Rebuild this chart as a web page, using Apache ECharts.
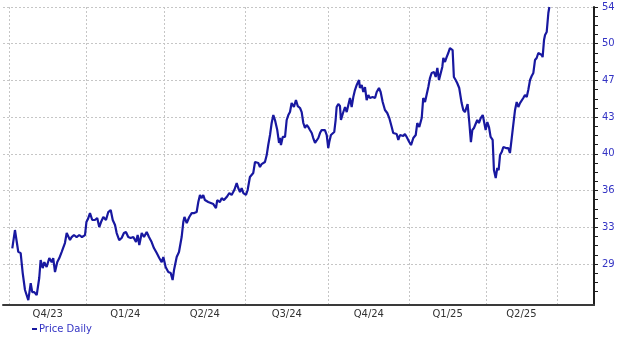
<!DOCTYPE html>
<html>
<head>
<meta charset="utf-8">
<script src="https://cdn.jsdelivr.net/npm/echarts@6/dist/echarts.min.js"></script>
<style>html,body{margin:0;padding:0;background:#fff}#c{width:620px;height:339px}</style>
</head>
<body>
<div id="c"></div>
<script>
// Trading-day index (from start of Q4/23) and daily price
var dayIndex = [2.6,4.7,7.3,9.2,10.8,12.6,13.9,15.2,17.1,18.3,19.9,21.8,23.8,24.9,26.5,27.8,29.6,31.7,33.6,34.8,36.2,38.0,39.6,41.4,42.7,44.0,45.4,46.6,48.0,49.3,51.1,53.2,55.3,57.4,59.8,60.9,62.1,63.7,65.5,67.6,69.4,71.0,72.4,74.2,76.3,78.1,80.0,81.6,83.4,84.7,86.7,88.6,90.4,92.0,93.8,95.7,97.8,99.9,101.2,102.5,104.4,106.2,108.3,110.1,112.2,114.0,116.2,118.2,120.1,121.4,123.2,125.3,127.2,128.7,129.8,131.9,133.7,135.8,137.1,138.0,139.8,141.8,143.7,145.7,147.6,148.9,150.2,151.6,152.8,154.1,156.7,158.1,160.7,162.8,163.8,165.9,167.3,169.1,171.2,173.3,175.1,177.2,179.1,180.3,181.7,183.0,184.3,186.4,187.7,189.5,190.9,192.1,193.5,194.8,196.1,197.4,198.7,200.0,201.3,202.7,203.9,205.3,206.6,207.9,209.2,211.0,212.4,213.1,213.9,215.3,217.1,218.4,219.7,221.0,222.3,224.1,225.7,227.1,228.9,230.2,231.5,232.8,234.1,235.4,236.7,238.1,239.3,240.7,242.0,243.3,244.6,245.9,247.2,248.5,249.9,251.1,251.9,253.2,254.6,255.8,256.9,257.7,259.0,260.3,261.1,262.7,264.3,265.6,266.9,268.2,269.5,270.8,272.1,273.5,275.3,276.0,277.4,278.7,280.0,281.3,282.6,283.9,286.0,287.9,289.2,291.0,292.3,293.9,295.7,297.5,299.1,301.0,302.2,304.9,306.2,307.5,310.1,311.4,312.8,314.8,316.2,318.0,319.9,321.1,322.7,324.6,325.8,327.2,328.5,329.8,331.1,332.4,334.3,335.6,336.9,338.2,339.5,340.8,341.6,342.9,344.2,345.5,346.8,348.2,348.9,349.9,351.3,352.5,354.1,356.0,357.3,358.6,359.9,360.7,362.0,363.3,364.4,365.7,367.3,368.3,369.6,371.0,372.6,373.8,374.9,376.2,377.5,378.8,380.4,381.4,382.8,384.0,385.1,386.2,387.5,388.8,390.9,392.7,394.0,395.4,396.6,398.0,399.3,400.6,401.9,403.2,404.5,405.8,407.2,408.4,409.8,411.1,412.4,413.7,415.0,416.3,417.6,419.0,419.7,420.8,421.6,422.9,423.7,424.2,425.0];
var price = [30.66,32.43,30.33,30.20,28.27,26.63,26.82,25.66,27.30,26.43,26.43,26.14,27.79,29.53,28.75,29.33,28.85,29.72,29.33,29.72,28.37,29.33,29.72,30.30,30.20,31.17,32.14,31.95,31.46,31.75,31.95,31.75,31.95,31.75,31.95,33.20,33.49,34.07,33.40,33.40,33.59,32.72,33.20,33.69,33.40,34.17,34.36,33.40,32.91,32.14,31.46,31.66,32.14,32.24,31.75,31.66,31.75,31.27,31.95,30.98,32.14,31.75,32.24,31.75,31.27,30.69,30.20,29.72,29.33,29.82,28.85,28.37,28.27,27.59,28.56,29.82,30.30,31.75,33.20,33.69,33.11,33.69,34.07,34.07,34.17,35.14,35.82,35.52,35.82,35.33,35.14,35.04,34.94,34.56,35.33,35.14,35.52,35.33,35.62,36.01,35.82,36.30,36.98,36.49,36.11,36.49,36.01,35.82,36.30,37.56,37.75,37.94,39.01,39.20,38.91,38.52,38.81,38.62,39.01,39.68,40.65,41.62,42.78,43.55,43.07,42.10,40.85,41.33,40.65,41.43,41.43,43.07,43.55,43.84,44.71,44.33,45.00,44.42,44.23,43.84,42.78,42.30,42.59,42.39,42.10,41.81,41.33,40.85,40.94,41.33,41.81,42.10,41.91,42.10,41.62,40.36,40.94,41.62,41.81,41.91,43.07,44.33,44.62,44.42,43.07,43.75,44.33,43.84,44.52,45.20,44.33,45.29,45.97,46.46,46.94,46.17,46.46,45.78,46.26,45.00,45.49,45.20,45.29,45.20,45.78,46.17,45.78,44.81,44.04,43.75,43.26,42.39,41.81,41.72,41.14,41.62,41.52,41.72,41.43,40.94,40.65,41.33,41.62,42.78,42.39,43.26,45.20,44.81,45.00,46.26,47.13,47.62,47.71,47.23,48.10,46.94,46.75,48.20,49.07,48.68,49.16,49.55,50.03,50.03,49.84,47.23,46.94,46.65,46.17,44.71,44.04,43.84,43.84,44.62,42.88,40.94,42.10,42.30,42.78,43.07,42.78,43.26,43.55,43.36,42.10,42.88,42.39,41.43,41.14,38.23,37.46,38.43,38.23,39.68,39.97,40.46,40.36,40.36,39.88,41.33,42.59,44.04,44.81,44.33,44.71,44.81,45.20,45.49,45.29,45.97,46.94,47.33,47.62,48.87,49.07,49.55,49.65,49.36,49.16,50.81,51.29,51.58,51.68,53.42,54.00];

// Quarter boundaries (trading-day index) and quarter labels
var quarterBounds = [0, 61, 122, 186, 251, 315, 375, 431];
var quarterLabels = ['Q4/23', 'Q1/24', 'Q2/24', 'Q3/24', 'Q4/24', 'Q1/25', 'Q2/25'];

// Y-axis tick values and labels
var yTickValues = [29.15, 32.7, 36.25, 39.8, 43.35, 46.9, 50.45, 54];
var yTickLabels = ['29', '33', '36', '40', '43', '47', '50', '54'];

var seriesName = 'Price Daily';

var xMin = -4.7, xMax = 460.1, yMin = 25.18, yMax = 54;

var seriesData = dayIndex.map(function (d, i) { return [d, price[i]]; });
var quarterMids = quarterLabels.map(function (q, i) { return (quarterBounds[i] + quarterBounds[i + 1]) / 2; });
var step = (yTickValues[1] - yTickValues[0]) / 4;
var allTicks = [];
for (var v = yTickValues[0] - 3 * step; v < yMax + 0.01; v += step) {
  if (v > yMin) allTicks.push(+v.toFixed(4));
}

var FONT = 'DejaVu Sans';
var BLUE_TXT = '#3434c4';
var LINE = '#1818a0';
var grid = { left: 3, right: 26, top: 7, bottom: 34 };
var gridLine = { show: true, lineStyle: { color: '#c6c6c6', type: [2, 2], width: 1 } };

function nearestLabel(vals, labels, val) {
  var best = 0, bd = 1e9;
  vals.forEach(function (m, i) { var d = Math.abs(m - val); if (d < bd) { bd = d; best = i; } });
  return labels[best];
}

var chart = echarts.init(document.getElementById('c'), null, { renderer: 'canvas' });
chart.setOption({
  animation: false,
  backgroundColor: '#ffffff',
  grid: grid,
  legend: {
    show: true,
    left: 32,
    top: 324,
    padding: 0,
    itemWidth: 5,
    itemHeight: 2,
    icon: 'rect',
    data: [{ name: seriesName, itemStyle: { color: LINE } }],
    textStyle: { color: BLUE_TXT, fontFamily: FONT, fontSize: 10, padding: [0, 0, 0, -3] }
  },
  xAxis: {
    type: 'value',
    min: xMin,
    max: xMax,
    axisLine: { show: true, onZero: false, lineStyle: { color: '#3a3a3a', width: 2 } },
    axisTick: { show: false, customValues: quarterBounds },
    splitLine: gridLine,
    axisLabel: {
      customValues: quarterMids,
      margin: 4,
      color: '#333333',
      fontFamily: FONT,
      fontSize: 10,
      formatter: function (val) { return nearestLabel(quarterMids, quarterLabels, val); }
    }
  },
  yAxis: [{
    type: 'value',
    position: 'right',
    min: yMin,
    max: yMax,
    axisLine: { show: true, onZero: false, lineStyle: { color: '#1e1e1e', width: 2 } },
    axisTick: { show: true, customValues: allTicks, length: 4, lineStyle: { color: '#1e1e1e', width: 1 } },
    splitLine: { show: false },
    axisLabel: {
      customValues: yTickValues,
      margin: 8,
      color: BLUE_TXT,
      fontFamily: FONT,
      fontSize: 10,
      formatter: function (val) { return nearestLabel(yTickValues, yTickLabels, val); }
    }
  }, {
    type: 'value',
    position: 'left',
    min: yMin,
    max: yMax,
    axisLine: { show: false, onZero: false },
    axisTick: { show: false, customValues: yTickValues },
    axisLabel: { show: false },
    splitLine: gridLine
  }],
  series: [{
    name: seriesName,
    type: 'line',
    yAxisIndex: 0,
    data: seriesData,
    showSymbol: false,
    symbol: 'none',
    lineStyle: { color: LINE, width: 2.2 },
    itemStyle: { color: LINE }
  }]
});
</script>
</body>
</html>
